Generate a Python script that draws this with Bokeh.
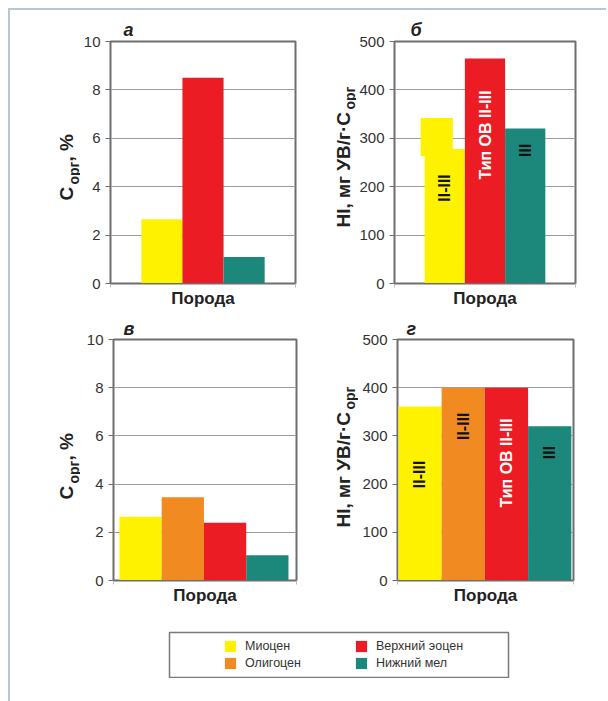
import math
from bokeh.plotting import figure
from bokeh.models import Legend, LegendItem, FixedTicker, Range1d, ColumnDataSource, Div, Spacer
from bokeh.layouts import column, row
from bokeh.core.properties import value
from bokeh.embed import file_html
from bokeh.resources import INLINE

# ---------------- data ----------------
corg_a_units = ["Миоцен", "Верхний эоцен", "Нижний мел"]
corg_a_values = [2.65, 8.5, 1.1]

hi_b_units = ["Миоцен", "Верхний эоцен", "Нижний мел"]
hi_b_values = [278, 465, 320]
hi_b_miocene_range = [263, 342]
hi_b_types = ["II-III", "Тип ОВ II-III", "III"]

corg_v_units = ["Миоцен", "Олигоцен", "Верхний эоцен", "Нижний мел"]
corg_v_values = [2.65, 3.45, 2.4, 1.05]

hi_g_units = ["Миоцен", "Олигоцен", "Верхний эоцен", "Нижний мел"]
hi_g_values = [361, 400, 400, 320]
hi_g_types = ["II-III", "II-III", "Тип ОВ II-III", "III"]

corg_ticks = [0, 2, 4, 6, 8, 10]
hi_ticks = [0, 100, 200, 300, 400, 500]

legend_units = ["Миоцен", "Олигоцен", "Верхний эоцен", "Нижний мел"]
panel_letters = ["а", "б", "в", "г"]
x_title = "Порода"
corg_label = ["C", "орг", ", %"]
hi_label = ["HI, мг УВ/г·C", "орг"]

# ---------------- style ----------------
COLORS = {"Миоцен": "#fff200", "Олигоцен": "#f28a22",
          "Верхний эоцен": "#ec1c24", "Нижний мел": "#1c887b"}
TXT_COL = {"Миоцен": "#111111", "Олигоцен": "#111111",
           "Верхний эоцен": "#ffffff", "Нижний мел": "#111111"}
FONT = "Liberation Sans"
FRAME_COL = "#6e6e6e"
LINE_BLUE = "#b7c7d6"


def make_panel(units, vals, ticks, fw, fh, bl, br, bt, bb, pad_l, pad_r,
               letter, letter_off, letter_standoff):
    n = len(units)
    x0, x1 = 0.5 - pad_l, n + 0.5 + pad_r
    p = figure(frame_width=fw, frame_height=fh,
               min_border_left=bl, min_border_right=br,
               min_border_top=bt, min_border_bottom=bb,
               x_range=Range1d(x0, x1), y_range=Range1d(ticks[0], ticks[-1]),
               output_backend="svg", toolbar_location=None,
               background_fill_color="white", border_fill_color="white")
    xs = list(range(1, n + 1))
    src = ColumnDataSource(dict(x=xs, top=vals, color=[COLORS[u] for u in units]))
    p.vbar(x="x", top="top", width=1.0, bottom=0, fill_color="color",
           line_color=None, source=src)
    p.outline_line_color = FRAME_COL
    p.outline_line_width = 2
    p.xgrid.visible = False
    p.ygrid.ticker = FixedTicker(ticks=ticks)
    p.ygrid.grid_line_color = "#9c9c9c"
    p.ygrid.grid_line_width = 1
    ya = p.yaxis[0]
    ya.ticker = FixedTicker(ticks=ticks)
    ya.major_tick_out = 5
    ya.major_tick_in = 0
    ya.minor_tick_line_color = None
    ya.axis_line_color = FRAME_COL
    ya.major_tick_line_color = FRAME_COL
    ya.major_label_text_font = FONT
    ya.major_label_text_font_size = "15px"
    ya.major_label_text_color = "#333333"
    ya.major_label_standoff = 5
    xa = p.xaxis[0]
    xa.ticker = FixedTicker(ticks=[x0, x1])
    xa.major_label_text_font_size = "0px"
    xa.major_label_standoff = 0
    xa.major_tick_out = 4
    xa.major_tick_in = 0
    xa.major_tick_line_color = "#bbbbbb"
    xa.minor_tick_line_color = None
    xa.axis_line_color = FRAME_COL
    xa.axis_label = x_title
    xa.axis_label_text_font = FONT
    xa.axis_label_text_font_style = "bold"
    xa.axis_label_text_font_size = "17px"
    xa.axis_label_text_color = "#222222"
    xa.axis_label_standoff = 1
    p.title.text = letter
    p.title.align = "left"
    p.title.offset = letter_off
    p.title.standoff = letter_standoff
    p.title.text_font = FONT
    p.title.text_font_style = "bold italic"
    p.title.text_font_size = "18px"
    p.title.text_color = "#222222"
    return p, xs


def label_fig(w, fh, bt, bb, texts, xs, ys, sizes):
    """Text-only strip holding the rotated y-axis title; its frame matches the panel's
    frame vertically, data units = pixels from the frame's bottom-left corner."""
    f = figure(frame_width=w, frame_height=fh, x_range=Range1d(0, w), y_range=Range1d(0, fh),
               min_border_left=0, min_border_right=0, min_border_top=bt, min_border_bottom=bb,
               x_axis_location=None, y_axis_location=None, title=None,
               output_backend="svg", toolbar_location=None, outline_line_color=None)
    f.grid.visible = False
    src = ColumnDataSource(dict(x=xs, y=ys, t=texts, s=sizes))
    f.text(x="x", y="y", text="t", source=src, angle=math.pi / 2,
           text_align="left", text_baseline="alphabetic", text_color="#222222",
           text_font=value(FONT), text_font_style="bold", text_font_size="s")
    return f


def add_types(p, xs, vals, units, types, fracs):
    src = ColumnDataSource(dict(x=xs, y=[v * f for v, f in zip(vals, fracs)],
                                t=types, c=[TXT_COL[u] for u in units]))
    p.text(x="x", y="y", text="t", source=src, angle=math.pi / 2,
           text_align="center", text_baseline="middle", text_color="c",
           text_font=value(FONT), text_font_style="bold", text_font_size="16px")


# ---- top row ----
la = label_fig(70, 242, 31, 30, corg_label, [56, 63, 56], [83, 99, 122],
               ["19px", "14px", "19px"])
pa, xa_ = make_panel(corg_a_units, corg_a_values, corg_ticks, 185, 242, 30, 5, 31, 30,
                     0.75, 0.75, panel_letters[0], 13, 3)

lb = label_fig(56, 242, 31, 30, hi_label, [43, 49], [56, 174], ["19px", "14px"])
pb, xb_ = make_panel(hi_b_units, hi_b_values, hi_ticks, 181, 242, 38, 30, 31, 30,
                     0.75, 0.75, panel_letters[1], 16, 3)
pb.quad(left=[xb_[0] - 0.6], right=[xb_[0] + 0.2],
        bottom=[hi_b_miocene_range[0]], top=[hi_b_miocene_range[1]],
        fill_color=COLORS[hi_b_units[0]], line_color=None)
add_types(pb, xb_, hi_b_values, hi_b_units, hi_b_types, [0.71, 0.66, 0.86])

# ---- bottom row ----
lv = label_fig(70, 241, 26, 35, corg_label, [56, 63, 56], [81, 97, 120],
               ["19px", "14px", "19px"])
pv, xv_ = make_panel(corg_v_units, corg_v_values, corg_ticks, 183, 241, 33, 4, 26, 35,
                     0.14, 0.19, panel_letters[2], 10, 1)

lg = label_fig(58, 241, 26, 35, hi_label, [43, 49], [53, 171], ["19px", "14px"])
pg, xg_ = make_panel(hi_g_units, hi_g_values, hi_ticks, 176, 241, 39, 30, 26, 35,
                     0.02, 0.05, panel_letters[3], 9, 1)
add_types(pg, xg_, hi_g_values, hi_g_units, hi_g_types, [0.61, 0.80, 0.61, 0.83])

# ---- legend ----
lf = figure(width=596, height=63, min_border_left=159, min_border_right=98,
            min_border_top=17, min_border_bottom=0, x_range=Range1d(0, 1),
            y_range=Range1d(0, 1), x_axis_location=None, y_axis_location=None,
            title=None, toolbar_location=None, output_backend="svg",
            sizing_mode="fixed", background_fill_color="white",
            border_fill_color="white")
lf.grid.visible = False
lf.outline_line_color = "#7a7a7a"
lf.outline_line_width = 1.5
lsrc = ColumnDataSource(dict(x=[0.5] * len(legend_units), top=[0] * len(legend_units),
                             color=[COLORS[u] for u in legend_units]))
lr = lf.vbar(x="x", top="top", bottom=0, width=0, fill_color="color", line_color=None,
             source=lsrc)
items = [LegendItem(label=u, renderers=[lr], index=i) for i, u in enumerate(legend_units)]
leg = Legend(items=items, ncols=2, location=(54, 8), glyph_width=14, glyph_height=14,
             spacing=3, label_width=106, label_height=14, label_standoff=8,
             padding=0, margin=0, border_line_alpha=0, background_fill_alpha=0,
             label_text_font=FONT, label_text_font_size="12.5px",
             label_text_color="#333333", label_text_baseline="middle")
lf.add_layout(leg)

content = column(row(la, pa, lb, pb), row(lv, pv, lg, pg), lf, Spacer(height=23))
top_line = Div(text="", width=598, height=2, margin=0,
               styles={"background-color": LINE_BLUE})
left_line = Div(text="", width=2, height=691, margin=0,
                styles={"background-color": LINE_BLUE})
layout = column(Spacer(height=8),
                row(Spacer(width=8), column(top_line, row(left_line, content))))

open("out.html", "w").write(file_html(layout, INLINE))
